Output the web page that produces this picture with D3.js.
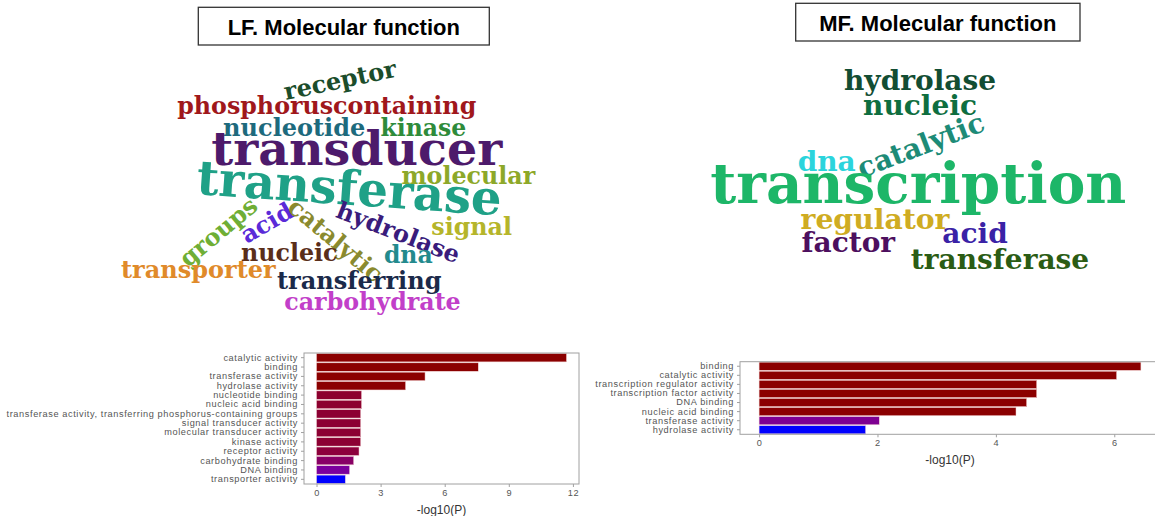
<!DOCTYPE html>
<html><head><meta charset="utf-8">
<script src="https://cdn.jsdelivr.net/npm/d3@7"></script>
<style>body{margin:0;background:#fff;} svg{display:block;}</style>
</head><body>
<svg id="c" width="1155" height="516"></svg>
<script>
// ---------- data ----------
const lfCategories = ["catalytic activity","binding","transferase activity","hydrolase activity","nucleotide binding","nucleic acid binding","transferase activity, transferring phosphorus-containing groups","signal transducer activity","molecular transducer activity","kinase activity","receptor activity","carbohydrate binding","DNA binding","transporter activity"];
const lfValues = [11.7, 7.57, 5.08, 4.17, 2.11, 2.11, 2.07, 2.07, 2.07, 2.07, 1.99, 1.74, 1.55, 1.35];
const lfTicks = [0, 3, 6, 9, 12];

const mfCategories = ["binding","catalytic activity","transcription regulator activity","transcription factor activity","DNA binding","nucleic acid binding","transferase activity","hydrolase activity"];
const mfValues = [6.45, 6.04, 4.69, 4.69, 4.52, 4.34, 2.03, 1.80];
const mfTicks = [0, 2, 4, 6];

const lfWords = ["receptor","phosphoruscontaining","nucleotide","kinase","transducer","transferase","molecular","signal","groups","acid","catalytic","hydrolase","nucleic","dna","transporter","transferring","carbohydrate"];
const lfWeights = [4.8, 4.75, 4.8, 4.7, 9.5, 9.6, 4.75, 4.75, 4.8, 4.8, 4.8, 4.8, 4.75, 4.7, 4.8, 4.8, 4.75];
const mfWords = ["hydrolase","nucleic","catalytic","dna","transcription","regulator","acid","factor","transferase"];
const mfWeights = [5.6, 5.6, 5.6, 5.6, 11.28, 5.65, 5.6, 5.6, 5.6];

// ---------- layout / style (not data) ----------
const lfLayout = [[340,80,-12],[326.7,106,0],[294.2,127.5,0],[423.3,127.5,0],[356.7,148,0],[349.3,188,4],[468.3,176,0],[471.7,227,0],[218.3,231.7,-40],[266.7,222.7,-30],[335.7,240,40],[398.3,232.3,21],[289.2,252.5,0],[408.3,255,0],[198.3,270,0],[359.2,281,0],[372.5,301.7,0]];
const lfColors = ["#1b4d2b","#a0171b","#1d6a7d","#2e8b3a","#4d1a6b","#1fa187","#8da829","#b5b52a","#6fae35","#5a2ad8","#8a8a2e","#3a1c7c","#5a2e1a","#238a8d","#e08a2a","#1b2a4a","#c23fc9"];
const mfLayout = [[920,79.7,0],[920,105,0],[920.7,145,-21],[826.7,160.8,0],[918.3,183,0],[875,219.2,0],[975,233,0],[848.3,241.7,0],[1000,259.2,0]];
const mfColors = ["#124d33","#0e6e3f","#1d8b77","#2bd4dc","#1db668","#cfac22","#3a22a6","#4d0f5e","#2b5c14"];

const svg = d3.select("#c");
svg.append("rect").attr("width",1155).attr("height",516).attr("fill","#fff");

function titleBox(text, x0, y0, x1, y1, base) {
  svg.append("rect").attr("x",x0).attr("y",y0).attr("width",x1-x0).attr("height",y1-y0)
    .attr("fill","#fff").attr("stroke","#333").attr("stroke-width",1.3);
  svg.append("text").attr("x",(x0+x1)/2).attr("y",base).attr("text-anchor","middle")
    .attr("font-family","Liberation Sans, Arial, sans-serif").attr("font-weight","bold")
    .attr("font-size",22).attr("fill","#000").text(text);
}
titleBox("LF. Molecular function",198.3,7.3,489.3,45,35);
titleBox("MF. Molecular function",795.7,3.3,1080,41,31);

function cloud(words, weights, layout, colors) {
  const size = d3.scaleLinear().domain([0,10]).range([0,50]);
  const g = svg.append("g");
  g.selectAll("text").data(words).join("text")
    .attr("transform",(w,i)=>`translate(${layout[i][0]},${layout[i][1]}) rotate(${layout[i][2]})`)
    .attr("text-anchor","middle").attr("dy","0.35em")
    .attr("font-family","DejaVu Serif, serif").attr("font-weight","bold")
    .attr("font-size",(w,i)=>size(weights[i])).attr("fill",(w,i)=>colors[i]).text(w=>w);
}
cloud(lfWords, lfWeights, lfLayout, lfColors);
cloud(mfWords, mfWeights, mfLayout, mfColors);

function barChart(cats, vals, ticks, left, right, top, bottom) {
  const max = d3.max(vals);
  const x = d3.scaleLinear().domain([-0.05*max, 1.05*max]).range([left, right]);
  const y = d3.scaleBand().domain(cats).range([top, bottom]).paddingInner(0.1).paddingOuter(0.05);
  const p = vals.map(v => Math.pow(10, -v));
  const color = d3.scaleLinear().domain([d3.min(p), d3.max(p)]).range(["#8B0000","#0000FF"]).interpolate(d3.interpolateLab);
  const g = svg.append("g");
  g.selectAll("rect.bar").data(cats).join("rect").attr("class","bar")
    .attr("x", x(0)).attr("y", c => y(c))
    .attr("width", (c,i) => x(vals[i]) - x(0)).attr("height", y.bandwidth())
    .attr("fill", (c,i) => color(p[i])).attr("stroke","#f3d3d3").attr("stroke-width",0.5);
  g.append("rect").attr("x",left).attr("y",top).attr("width",right-left).attr("height",bottom-top)
    .attr("fill","none").attr("stroke","#a0a0a0").attr("stroke-width",1);
  const xa = d3.axisBottom(x).tickValues(ticks).tickSize(3).tickPadding(2).tickFormat(d3.format("d"));
  const ax = g.append("g").attr("transform",`translate(0,${bottom})`).call(xa);
  const ya = d3.axisLeft(y).tickSize(3).tickPadding(3);
  const ay = g.append("g").attr("transform",`translate(${left},0)`).call(ya);
  [ax, ay].forEach(a => {
    a.select(".domain").remove();
    a.selectAll(".tick line").attr("stroke","#a0a0a0");
    a.selectAll("text").attr("fill","#555").attr("font-size",9.2)
      .attr("font-family","Liberation Sans, Arial, sans-serif").style("letter-spacing","0.6px");
  });
  g.append("text").attr("x",(left+right)/2).attr("y",bottom+30).attr("text-anchor","middle")
    .attr("font-family","Liberation Sans, Arial, sans-serif").attr("font-size",12).attr("fill","#333")
    .text("-log10(P)");
}
barChart(lfCategories, lfValues, lfTicks, 304, 579, 353, 484);
barChart(mfCategories, mfValues, mfTicks, 740, 1160, 361.7, 434.3);
</script>
</body></html>
